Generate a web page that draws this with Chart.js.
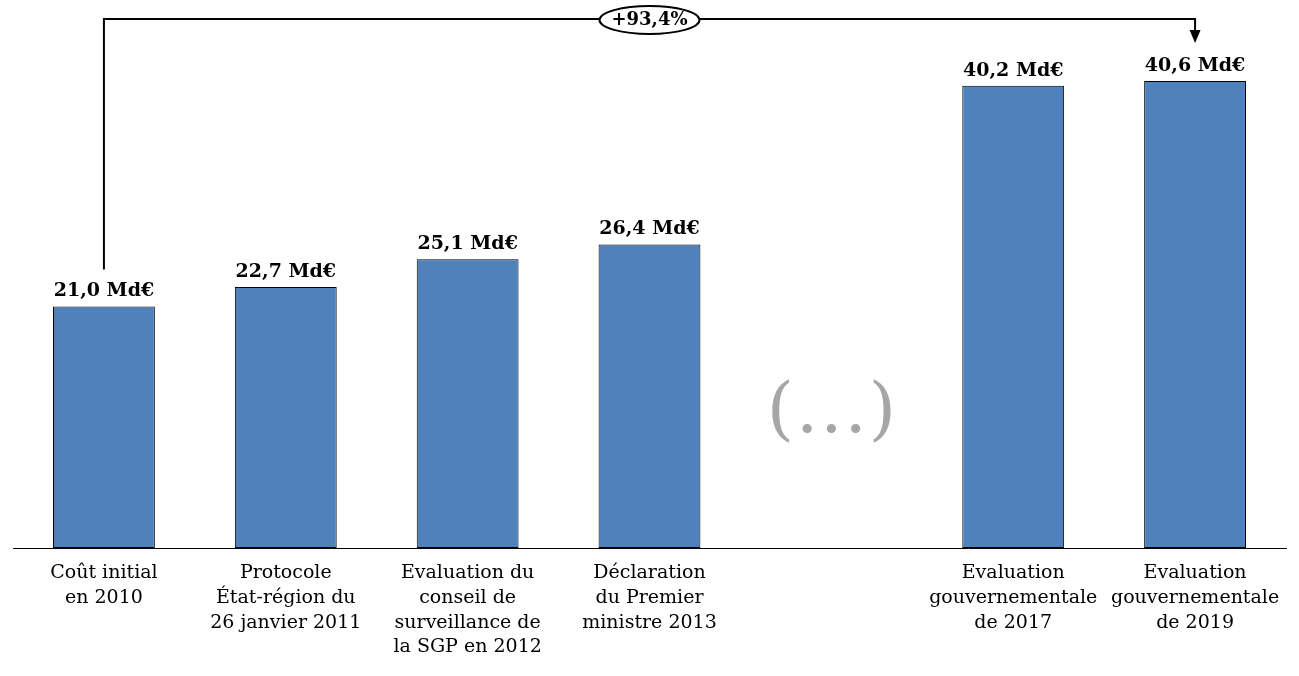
<!DOCTYPE html>
<html>
<head>
<meta charset="utf-8">
<script src="https://cdn.jsdelivr.net/npm/chart.js@4.4.1/dist/chart.umd.min.js"></script>
<style>
  html, body { margin: 0; padding: 0; background: #fff; }
  #wrap { width: 1299px; height: 676px; }
</style>
</head>
<body>
<div id="wrap"><canvas id="canvas"></canvas></div>
<script>
// categories (the 5th one is the "(...)" gap)
var categories = [
    ['Coût initial', 'en 2010'],
    ['Protocole', 'État-région du', '26 janvier 2011'],
    ['Evaluation du', 'conseil de', 'surveillance de', 'la SGP en 2012'],
    ['Déclaration', 'du Premier', 'ministre 2013'],
    '',
    ['Evaluation', 'gouvernementale', 'de 2017'],
    ['Evaluation', 'gouvernementale', 'de 2019']
];
var costs = [21.0, 22.7, 25.1, 26.4, null, 40.2, 40.6];
var growthLabel = '+93,4%';
var gapLabel = '(...)';

var serif = "'DejaVu Serif', 'Liberation Serif', serif";

function fmt(v) {
    return v.toFixed(1).replace('.', ',') + ' Md€';
}

// value labels above the bars
var valueLabels = {
    id: 'valueLabels',
    afterDatasetsDraw: function (chart) {
        var ctx = chart.ctx;
        var meta = chart.getDatasetMeta(0);
        ctx.save();
        ctx.font = 'bold 19px ' + serif;
        ctx.fillStyle = '#000';
        ctx.textAlign = 'center';
        ctx.textBaseline = 'middle';
        meta.data.forEach(function (bar, i) {
            if (costs[i] == null) return;
            ctx.fillText(fmt(costs[i]), bar.x, bar.y - 15);
        });
        ctx.restore();
    }
};

// "(...)" in the empty slot + the bracket with +93,4%
var annotations = {
    id: 'annotations',
    afterDraw: function (chart) {
        var ctx = chart.ctx;
        var x = chart.scales.x, y = chart.scales.y;
        ctx.save();

        // gap marker
        ctx.fillStyle = '#a6a6a6';
        ctx.font = '70px ' + serif;
        ctx.letterSpacing = '2px';
        ctx.textAlign = 'center';
        ctx.textBaseline = 'middle';
        ctx.fillText(gapLabel, x.getPixelForValue(4) + 1, 414);
        ctx.letterSpacing = '0px';

        // bracket
        var first = 0, last = costs.length - 1;
        var x0 = x.getPixelForValue(first);
        var x1 = x.getPixelForValue(last);
        var top = 19;
        var y0 = y.getPixelForValue(costs[first]) - 37;
        var tip = 43;
        ctx.strokeStyle = '#000';
        ctx.lineWidth = 2;
        ctx.beginPath();
        ctx.moveTo(x0, y0);
        ctx.lineTo(x0, top);
        ctx.lineTo(x1, top);
        ctx.lineTo(x1, tip - 12);
        ctx.stroke();
        ctx.fillStyle = '#000';
        ctx.beginPath();
        ctx.moveTo(x1 - 5.5, tip - 13);
        ctx.lineTo(x1 + 5.5, tip - 13);
        ctx.lineTo(x1, tip);
        ctx.closePath();
        ctx.fill();

        // ellipse with the growth rate
        var cx = (x0 + x1) / 2;
        ctx.beginPath();
        ctx.ellipse(cx, top + 1, 50, 14, 0, 0, Math.PI * 2);
        ctx.fillStyle = '#fff';
        ctx.fill();
        ctx.lineWidth = 2;
        ctx.stroke();
        ctx.fillStyle = '#000';
        ctx.font = 'bold 18px ' + serif;
        ctx.fillText(growthLabel, cx, top + 1);
        ctx.restore();
    }
};

var ctx = document.getElementById('canvas').getContext('2d');
var costChart = new Chart(ctx, {
    type: 'bar',
    data: {
        labels: categories,
        datasets: [{
            label: 'Coût',
            data: costs,
            backgroundColor: '#4F81BD',
            borderColor: '#000',
            borderWidth: 1,
            borderSkipped: false,
            categoryPercentage: 1,
            barPercentage: 0.56
        }]
    },
    options: {
        responsive: true,
        maintainAspectRatio: false,
        animation: false,
        layout: { padding: { left: 13, right: 13, top: 19, bottom: 0 } },
        plugins: {
            legend: { display: false },
            tooltip: { enabled: false }
        },
        scales: {
            x: {
                grid: { display: false },
                border: { display: true, color: '#000', width: 1 },
                ticks: {
                    color: '#000',
                    maxRotation: 0,
                    autoSkip: false,
                    padding: 5,
                    font: { family: serif, size: 19, lineHeight: 1.3 }
                },
                afterFit: function (scale) { scale.height = 128; }
            },
            y: {
                display: false,
                min: 0,
                max: 46
            }
        }
    },
    plugins: [valueLabels, annotations]
});
</script>
</body>
</html>
